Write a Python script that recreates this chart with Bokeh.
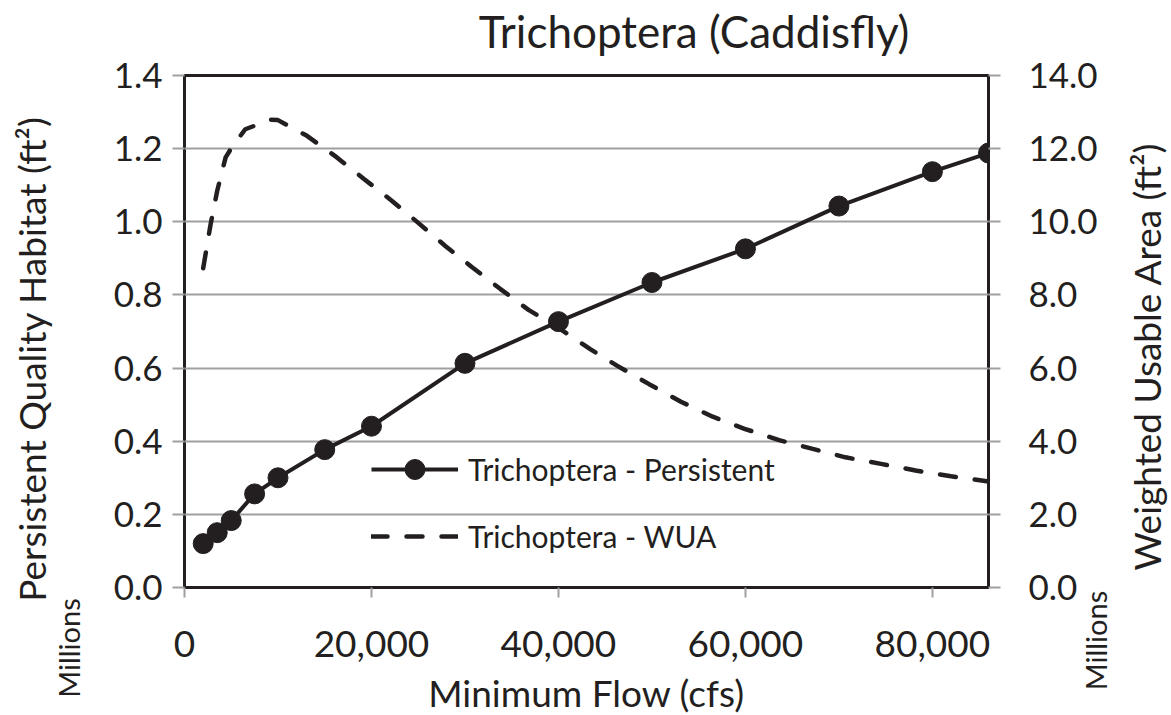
import math
from bokeh.plotting import figure
from bokeh.models import (Range1d, LinearAxis, FixedTicker, NumeralTickFormatter,
                          Label, Legend, LegendItem)
from bokeh.embed import file_html
from bokeh.resources import INLINE

# ---- data (values in millions of ft^2) ----
flow_persist = [2000, 3500, 5000, 7500, 10000, 15000, 20000, 30000, 40000,
                50000, 60000, 70000, 80000, 86000]
persistent = [0.12, 0.15, 0.183, 0.256, 0.30, 0.377, 0.441, 0.613, 0.727,
              0.834, 0.926, 1.043, 1.137, 1.188]

flow_wua = [2000, 2800, 3500, 4400, 5000, 6500, 9200, 10000, 13100, 16300,
            19200, 22200, 25100, 27900, 30800, 33800, 36800, 40000, 43400,
            46300, 49700, 53100, 56500, 59900, 63600, 67200, 70700, 74500,
            78200, 82000, 86000]
wua = [8.73, 9.94, 10.85, 11.76, 12.01, 12.53, 12.79, 12.78, 12.35, 11.76,
       11.17, 10.57, 9.95, 9.34, 8.75, 8.16, 7.59, 7.10, 6.52,
       6.06, 5.56, 5.08, 4.67, 4.34, 4.03, 3.79, 3.56, 3.38,
       3.20, 3.04, 2.90]

x_ticks = [0, 20000, 40000, 60000, 80000]
left_ticks = [0.0, 0.2, 0.4, 0.6, 0.8, 1.0, 1.2, 1.4]
right_ticks = [0, 2, 4, 6, 8, 10, 12, 14]

title_text = "Trichoptera (Caddisfly)"
x_label = "Minimum Flow (cfs)"
left_label = "Persistent Quality Habitat (ft\u00b2)"
right_label = "Weighted Usable Area (ft\u00b2)"
units_label = "Millions"
legend_persist = "Trichoptera - Persistent"
legend_wua = "Trichoptera - WUA"

INK = "#231f20"
GRAY = "#a0a0a0"
FONT = "Lato"

p = figure(frame_width=804, frame_height=512,
           min_border_left=184, min_border_right=183,
           min_border_top=75, min_border_bottom=128,
           x_range=Range1d(0, 86000), y_range=Range1d(0, 1.4),
           output_backend="svg", toolbar_location=None,
           background_fill_color="white", border_fill_color="white")
p.extra_y_ranges = {"wua": Range1d(0, 14)}

p.outline_line_color = INK
p.outline_line_width = 3
p.xgrid.visible = False
p.ygrid.ticker = FixedTicker(ticks=left_ticks)
p.ygrid.grid_line_color = GRAY
p.ygrid.grid_line_width = 2

# x axis
xa = p.xaxis[0]
xa.ticker = FixedTicker(ticks=x_ticks)
xa.formatter = NumeralTickFormatter(format="0,0")
xa.major_label_text_font = FONT
xa.major_label_text_font_size = "37px"
xa.major_label_text_color = INK
xa.major_label_standoff = 33
xa.axis_line_color = None
xa.major_tick_line_color = GRAY
xa.major_tick_line_width = 2
xa.major_tick_out = 10
xa.major_tick_in = 0
xa.minor_tick_line_color = None
xa.minor_tick_out = 0

# left axis
ya = p.yaxis[0]
ya.ticker = FixedTicker(ticks=left_ticks)
ya.formatter = NumeralTickFormatter(format="0.0")
ya.major_label_text_font = FONT
ya.major_label_text_font_size = "35px"
ya.major_label_text_color = INK
ya.major_label_standoff = 10
ya.axis_line_color = None
ya.major_tick_line_color = GRAY
ya.major_tick_line_width = 2
ya.major_tick_out = 12
ya.major_tick_in = 0
ya.minor_tick_line_color = None
ya.minor_tick_out = 0

# right axis
ra = LinearAxis(y_range_name="wua")
ra.ticker = FixedTicker(ticks=right_ticks)
ra.formatter = NumeralTickFormatter(format="0.0")
ra.major_label_text_font = FONT
ra.major_label_text_font_size = "35px"
ra.major_label_text_color = INK
ra.major_label_standoff = 28
ra.axis_line_color = None
ra.major_tick_line_color = GRAY
ra.major_tick_line_width = 2
ra.major_tick_out = 12
ra.major_tick_in = 0
ra.minor_tick_line_color = None
ra.minor_tick_out = 0
p.add_layout(ra, "right")

# series
r_wua = p.line(flow_wua, wua, y_range_name="wua", line_color=INK, line_width=4.5,
               line_dash="16 19", line_cap="round")
r_pl = p.line(flow_persist, persistent, line_color=INK, line_width=4)
r_pc = p.scatter(flow_persist, persistent, size=20, marker="circle",
                 fill_color=INK, line_color=INK)

legend = Legend(items=[LegendItem(label=legend_persist, renderers=[r_pl, r_pc]),
                       LegendItem(label=legend_wua, renderers=[r_wua])],
                location=(187, 26), orientation="vertical",
                glyph_width=87, glyph_height=50, label_height=50,
                label_standoff=10, spacing=17, padding=0, margin=0,
                label_text_font=FONT, label_text_font_size="30px",
                label_text_color=INK,
                background_fill_alpha=0, border_line_alpha=0)
p.add_layout(legend, "center")

# texts outside the frame (Labels placed in side panels are not clipped)
def lab(side, text, x, y, size, angle=0.0, align="center"):
    p.add_layout(Label(text=text, x=x, y=y, x_units="data", y_units="data",
                       angle=angle, text_font=FONT, text_font_size=size,
                       text_color=INK, text_align=align,
                       text_baseline="alphabetic"), side)

lab("above", title_text, 54500, 1.523, "44px")
lab("left", left_label, -16366, 0.6248, "37px", angle=math.pi / 2)
lab("left", units_label, -12409, -0.1654, "29px", angle=math.pi / 2)
lab("right", right_label, 102905, 0.6317, "37px", angle=math.pi / 2)
lab("right", units_label, 97450, -0.1449, "29px", angle=math.pi / 2)
lab("below", x_label, 43002, -0.2870, "37px")

open("out.html", "w").write(file_html(p, INLINE))
